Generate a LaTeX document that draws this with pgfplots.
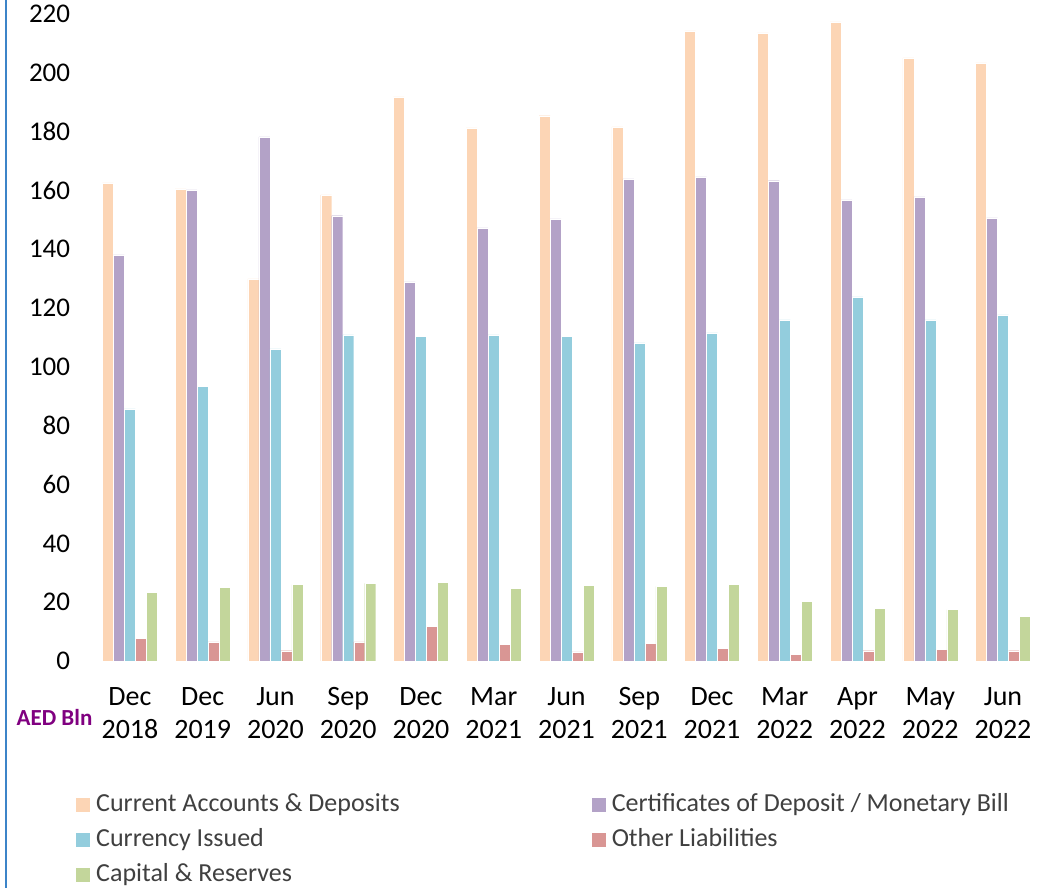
\documentclass[border=0pt]{standalone}
\usepackage{pgfplots}
\pgfplotsset{compat=1.18}
\usepackage{fontspec}
\setmainfont{Carlito}
\definecolor{cPeach}{HTML}{FCD5B5}
\definecolor{cPurple}{HTML}{B3A2C7}
\definecolor{cBlue}{HTML}{93CDDD}
\definecolor{cRed}{HTML}{D99694}
\definecolor{cGreen}{HTML}{C3D69B}
\definecolor{cFrame}{HTML}{3C84C8}
\definecolor{cAED}{HTML}{800080}
\definecolor{cLeg}{HTML}{404040}
\begin{document}
\begin{tikzpicture}
\useasboundingbox (0,0) rectangle (1061pt,888pt);
\draw[cFrame, line width=2pt] (6pt,0) -- (6pt,888pt);
\node[font=\fontsize{23}{28}\selectfont\bfseries, text=cAED] at (54.5pt,171pt) {AED Bln};
\begin{axis}[
  at={(93.6pt,227pt)}, anchor=south west,
  scale only axis, width=945.8pt, height=647pt,
  xmin=-0.5, xmax=12.5, ymin=0, ymax=220,
  axis x line*=bottom, axis y line*=left,
  axis line style={draw=none},
  major tick length=0pt,
  ybar=0pt, bar width=11pt,
  ytick={0,20,...,220},
  xtick={0,...,12},
  xticklabels={{\strut Dec\\\strut 2018},{\strut Dec\\\strut 2019},{\strut Jun\\\strut 2020},{\strut Sep\\\strut 2020},{\strut Dec\\\strut 2020},{\strut Mar\\\strut 2021},{\strut Jun\\\strut 2021},{\strut Sep\\\strut 2021},{\strut Dec\\\strut 2021},{\strut Mar\\\strut 2022},{\strut Apr\\\strut 2022},{\strut May\\\strut 2022},{\strut Jun\\\strut 2022}},
  xticklabel style={align=center, font=\fontsize{28}{33}\selectfont, inner sep=0pt, anchor=north, yshift=-21pt},
  yticklabel style={font=\fontsize{27}{32}\selectfont, xshift=-20pt},
  /pgf/number format/assume math mode=true,
  every axis plot/.append style={draw=white, line width=0.4pt},
  legend columns=2,
  legend image code/.code={\fill[#1, draw=none] (0pt,-7pt) rectangle (14pt,7pt);},
  legend style={draw=none, at={(-0.0186,-0.2035)}, anchor=north west,
    font=\fontsize{26}{31}\selectfont, text=cLeg, inner sep=0pt, row sep=10pt,
    nodes={inner sep=0pt, text height=19pt, text depth=6pt},
    /tikz/every odd column/.append style={column sep=6pt},
    /tikz/column 2/.append style={column sep=192pt}},
  legend cell align=left,
]
\addplot[fill=cPeach] coordinates {(0,162.6) (1,160.5) (2,129.9) (3,158.5) (4,191.8) (5,181.3) (6,185.4) (7,181.6) (8,214.3) (9,213.6) (10,217.3) (11,205.1) (12,203.4)};
\addplot[fill=cPurple] coordinates {(0,138.1) (1,160.2) (2,178.2) (3,151.4) (4,128.9) (5,147.3) (6,150.3) (7,163.9) (8,164.6) (9,163.3) (10,156.8) (11,157.8) (12,150.7)};
\addplot[fill=cBlue] coordinates {(0,85.7) (1,93.5) (2,106.1) (3,110.9) (4,110.5) (5,110.9) (6,110.5) (7,108.2) (8,111.6) (9,116.0) (10,123.8) (11,116.0) (12,117.7)};
\addplot[fill=cRed] coordinates {(0,7.6) (1,6.5) (2,3.5) (3,6.5) (4,11.8) (5,5.7) (6,3.1) (7,6.0) (8,4.4) (9,2.2) (10,3.5) (11,4.0) (12,3.5)};
\addplot[fill=cGreen] coordinates {(0,23.3) (1,25.1) (2,26.0) (3,26.4) (4,26.8) (5,24.7) (6,25.7) (7,25.4) (8,26.1) (9,20.3) (10,17.8) (11,17.5) (12,15.2)};
\legend{Current Accounts \& Deposits, Certificates of Deposit / Monetary Bill, Currency Issued, Other Liabilities, Capital \& Reserves}
\end{axis}
\end{tikzpicture}
\end{document}
